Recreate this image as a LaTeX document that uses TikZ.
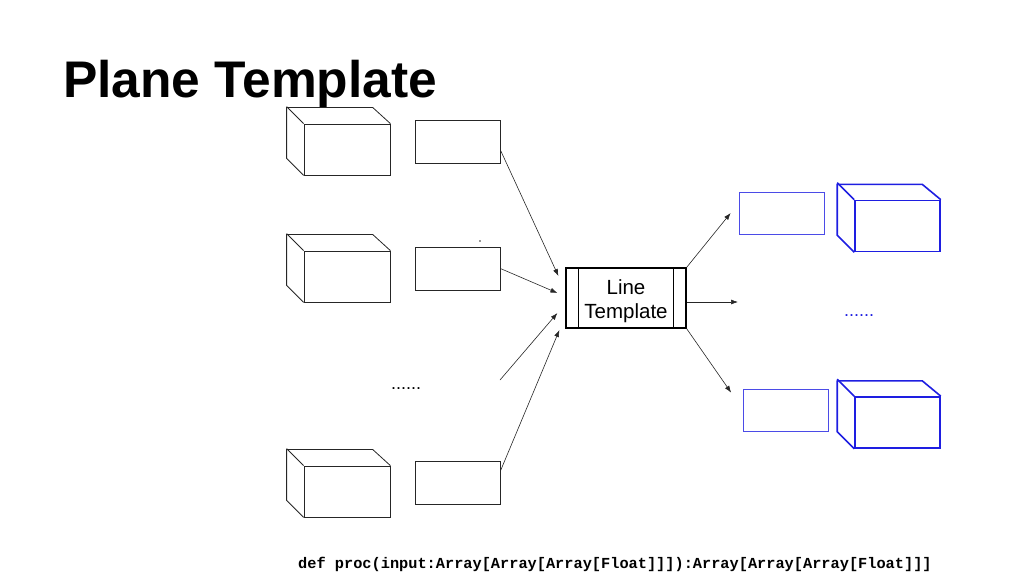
\documentclass[tikz,border=0pt]{standalone}
\usepackage{fontspec}
\usetikzlibrary{arrows.meta}
\setmainfont{Liberation Sans}
\setmonofont{Liberation Mono}
\definecolor{outblue}{RGB}{30,30,225}
\begin{document}
\begin{tikzpicture}[x=1pt,y=-1pt,
    face/.style={draw=black!85,line width=.8pt,minimum width=86pt,minimum height=51pt,inner sep=0pt},
    slot/.style={draw=black!85,line width=.8pt,minimum width=85pt,minimum height=43pt,inner sep=0pt},
    outface/.style={draw=outblue,line width=1.6pt,minimum width=85pt,minimum height=51pt,inner sep=0pt},
    outslot/.style={draw=outblue!80,line width=.7pt,minimum width=85pt,minimum height=42pt,inner sep=0pt},
    flow/.style={-{Latex[length=7pt,width=5pt]},line width=.6pt,black!85},
    dots/.style={font=\fontsize{18}{18}\selectfont,inner sep=0pt,anchor=base}]
    \useasboundingbox (0,0) rectangle (1024,576);
    \node[anchor=base west,inner sep=0pt,font=\fontsize{51.5}{50}\selectfont\bfseries] (title) at (63,97) {Plane Template};
    % input planes
    \node[face] (c1) at (347,149.5) {};
    \node[face] (c2) at (347,276.5) {};
    \node[face] (c4) at (347,491.5) {};
    \foreach \c in {c1,c2,c4} {
        \draw[black!85,line width=.8pt] (\c.south west) -- ++(-17,-17) -- ++(0,-51) -- ++(86,0) -- (\c.north east);
        \draw[black!85,line width=.8pt] (\c.north west) -- ++(-17,-17);
    }
    \node[slot] (r1) at (457.5,141.5) {};
    \node[slot] (r2) at (457.5,268.5) {};
    \node[slot] (r4) at (457.5,482.5) {};
    \node[dots] (ldots) at (406,389) {......};
    \fill[black!80] (480,241) circle (.8);
    \coordinate (dl) at (500,380);
    % line template
    \node[draw,line width=1.2pt,minimum width=120pt,minimum height=60pt,inner sep=0pt] (lt) at (626,298) {};
    \node[align=center,inner sep=0pt,font=\fontsize{20.5}{24}\selectfont] (ltext) at (626,301) {Line\\Template};
    \draw[line width=1.2pt] ([xshift=13pt]lt.north west) -- ([xshift=13pt]lt.south west);
    \draw[line width=1.2pt] ([xshift=-13pt]lt.north east) -- ([xshift=-13pt]lt.south east);
    \draw[flow] ([yshift=-8.5pt]r1.east) -- ([xshift=-7pt,yshift=22pt]lt.west);
    \draw[flow] (r2.east) -- ([xshift=-8pt,yshift=5pt]lt.west);
    \draw[flow] (dl) -- ([xshift=-8pt,yshift=-15pt]lt.west);
    \draw[flow] ([yshift=11.5pt]r4.east) -- ([xshift=-6pt,yshift=-32pt]lt.west);
    % output planes
    \node[outslot] (b1) at (781.5,213) {};
    \node[outslot] (b3) at (786,410) {};
    \node[outface] (o1) at (897.5,226) {};
    \node[outface] (o3) at (897.5,422.5) {};
    \foreach \c in {o1,o3} {
        \draw[outblue,line width=1.6pt,line join=round] (\c.south west) -- ++(-17,-17) -- ++(0,-51) -- ++(85,0) -- (\c.north east);
        \draw[outblue,line width=1.6pt] (\c.north west) -- ++(-17,-17);
    }
    \node[dots,text=outblue] (rdots) at (859,316) {......};
    \coordinate (dr) at (738,302);
    \draw[flow] (lt.north east) -- ([xshift=-8pt]b1.west);
    \draw[flow] ([yshift=-4pt]lt.east) -- (dr);
    \draw[flow] (lt.south east) -- ([xshift=-12pt,yshift=-4pt]b3.north west);
    \node[anchor=base west,inner sep=0pt,font=\fontsize{15.3}{16}\selectfont\ttfamily\bfseries] (sig) at (298,568)
        {def proc(input:Array[Array[Array[Float]]]):Array[Array[Array[Float]]]};
\end{tikzpicture}
\end{document}
